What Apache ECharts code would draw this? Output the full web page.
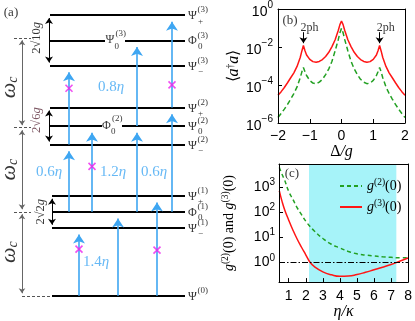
<!DOCTYPE html>
<html>
<head>
<meta charset="utf-8">
<script src="https://cdn.jsdelivr.net/npm/echarts@6/dist/echarts.min.js"></script>
<style>
html, body { margin: 0; padding: 0; background: #fff; }
#chart { width: 415px; height: 321px; }
</style>
</head>
<body>
<div id="chart"></div>
<script>
// ---- panel (a): energy levels, in units of omega_c ----
var levelE   = [0, 0.81, 1.0, 1.19, 1.80, 2.02, 2.24, 2.74, 3.04, 3.34];
var levelSym = ['Ψ', 'Ψ', 'Φ', 'Ψ', 'Ψ', 'Ψ', 'Ψ', 'Ψ', 'Φ', 'Ψ'];
var levelSub = ['', '−', '0', '+', '−', '0', '+', '−', '0', '+'];
var levelSup = ['(0)', '(1)', '(1)', '(1)', '(2)', '(2)', '(2)', '(3)', '(3)', '(3)'];
var omegaMarks = [0, 1.0, 2.0, 3.07];
// transitions (level index from -> to), forbidden ones get a cross
var transFrom = [0, 0, 0, 2, 2, 2, 2, 4, 5, 6];
var transTo   = [1, 2, 3, 4, 5, 5, 6, 7, 8, 9];
var forbidden = [true, false, true, false, true, false, false, true, false, true];
var detuneText = ['1.4', '0.6', '1.2', '0.6', '0.8'];

// ---- panel (b): log10 <a+a> vs Delta/g ----
var delta = [-2, -1.9, -1.8, -1.7, -1.6, -1.5, -1.4, -1.3, -1.25, -1.2, -1.15, -1.1, -1, -0.9, -0.8, -0.7, -0.6, -0.5, -0.4, -0.3, -0.2, -0.1, -0.05,
  0, 0.05, 0.1, 0.2, 0.3, 0.4, 0.5, 0.6, 0.7, 0.8, 0.9, 1, 1.1, 1.15, 1.2, 1.25, 1.3, 1.4, 1.5, 1.6, 1.7, 1.8, 1.9, 2];
var nRedLog = [-4.54, -4.35, -4.13, -3.88, -3.62, -3.36, -3.02, -2.55, -2.22, -1.92, -2.2, -2.42, -2.65, -2.77, -2.8, -2.76, -2.66, -2.5, -2.28, -1.98, -1.62, -1.12, -0.82,
  -0.63, -0.82, -1.12, -1.62, -1.98, -2.28, -2.5, -2.66, -2.76, -2.8, -2.77, -2.65, -2.42, -2.2, -1.92, -2.22, -2.55, -3.02, -3.36, -3.62, -3.88, -4.13, -4.35, -4.54];
var nGreenLog = [-5.71, -5.5, -5.27, -5.02, -4.74, -4.45, -4.1, -3.62, -3.32, -3.08, -3.3, -3.5, -3.76, -3.9, -3.93, -3.85, -3.7, -3.45, -3.15, -2.75, -2.2, -1.6, -1.25,
  -1.02, -1.25, -1.6, -2.2, -2.75, -3.15, -3.45, -3.7, -3.85, -3.93, -3.9, -3.76, -3.5, -3.3, -3.08, -3.32, -3.62, -4.1, -4.45, -4.74, -5.02, -5.27, -5.5, -5.71];
var peaks2ph = [-1.2, 1.2];

// ---- panel (c): log10 g2(0), g3(0) vs eta/kappa ----
var eta = [0.45, 0.6, 0.75, 1, 1.25, 1.5, 1.75, 2, 2.25, 2.5, 3, 3.5, 4, 4.5, 5, 5.5, 6, 6.5, 7, 7.5, 8];
var g2Log = [3.78, 3.52, 3.29, 2.83, 2.5, 2.17, 1.9, 1.64, 1.43, 1.25, 0.95, 0.72, 0.57, 0.43, 0.34, 0.29, 0.25, 0.22, 0.2, 0.18, 0.18];
var g3Log = [2.85, 2.45, 2.12, 1.68, 1.28, 0.92, 0.6, 0.3, 0.0, -0.17, -0.38, -0.5, -0.56, -0.55, -0.49, -0.4, -0.3, -0.2, -0.09, 0.04, 0.17];
var shadeRange = [2.19, 7.31];
var etaTicks = [1, 2, 3, 4, 5, 6, 7, 8];
var gTicks = [0, 1, 2, 3];

var SERIF = 'Liberation Serif', SANS = 'Liberation Sans';
var BLUE = '#3ea6f2', MAG = '#ee22ee', RED = '#ff1515', GREEN = '#22a022';

// layout of the diagram (horizontal positions in panel pixels)
var arrowX = [79, 118, 157, 69, 92, 137, 172, 69, 137, 172];
var crossE = [0.556, null, 0.544, null, 1.54, null, null, 2.47, null, 2.51];
var levelGap = { 5: [102, 122], 8: [105, 125] };
var detunePos = [[96, 0.40], [49, 1.47], [113, 1.47], [154, 1.47], [111, 2.48]];
var headInset = 0.08, splitInset = 0.035, omegaInset = 0.03;

function neg(v) { return v < 0 ? '−' + (-v) : String(v); }

var RICH = {
  m: { fontFamily: SERIF, fontSize: 12, color: '#000' },
  s: { fontFamily: SERIF, fontSize: 9, color: '#000' },
  bn: { fontFamily: SERIF, fontSize: 15, color: BLUE },
  bi: { fontFamily: SERIF, fontSize: 15, color: BLUE, fontStyle: 'italic' },
  w: { fontFamily: SERIF, fontSize: 22, fontStyle: 'italic', color: '#000' },
  wc: { fontFamily: SERIF, fontSize: 14, fontStyle: 'italic', color: '#000', padding: [9, 0, 0, 0] },
  k: { fontFamily: SERIF, fontSize: 12.5, color: '#000' },
  kp: { fontFamily: SERIF, fontSize: 12.5, color: '#5b2c3b' },
  ki: { fontFamily: SERIF, fontSize: 12.5, color: '#000', fontStyle: 'italic' },
  kpi: { fontFamily: SERIF, fontSize: 12.5, color: '#5b2c3b', fontStyle: 'italic' },
  lab: { fontFamily: SERIF, fontSize: 13, color: '#000' },
  ph: { fontFamily: SERIF, fontSize: 12, color: '#000' }
};

function t(x, y, fmt, o) {
  var lab = { show: true, position: 'inside', formatter: fmt };
  for (var key in (o || {})) lab[key] = o[key];
  return { value: [x, y], label: lab };
}

// level segments
var levelSegs = [];
levelE.forEach(function (e, i) {
  var x0 = i < 4 ? 52 : 50;
  var gap = levelGap[i];
  if (gap) {
    levelSegs.push({ coords: [[x0, e], [gap[0], e]] });
    levelSegs.push({ coords: [[gap[1], e], [185, e]] });
  } else {
    levelSegs.push({ coords: [[x0, e], [185, e]] });
  }
});

var arrowSegs = transFrom.map(function (f, k) {
  return { coords: [[arrowX[k], levelE[f]], [arrowX[k], levelE[transTo[k]] - headInset]] };
});
var crosses = [];
forbidden.forEach(function (fb, k) { if (fb) crosses.push([arrowX[k], crossE[k]]); });

function dbl(x, top, bottom, inset) {
  return { coords: [[x, top - inset], [x, bottom + inset]] };
}
var splitSegs = [
  dbl(49, levelE[9], levelE[7], splitInset),
  dbl(49, levelE[6], levelE[4], splitInset),
  dbl(52, levelE[3], levelE[1], splitInset)
];
var omegaSegs = [];
for (var i = 0; i < omegaMarks.length - 1; i++) {
  omegaSegs.push(dbl(22, omegaMarks[i + 1], omegaMarks[i], omegaInset));
}
var dashSegs = [{ coords: [[22, 0], [52, 0]] }];
for (var j = 1; j < omegaMarks.length; j++) {
  dashSegs.push({ coords: [[14, omegaMarks[j]], [31, omegaMarks[j]]] });
}

// texts of panel (a)
var texts = [];
levelE.forEach(function (e, i) {
  texts.push(t(188, e - 0.012, '{m|' + levelSym[i] + '}', { align: 'left' }));
  texts.push(t(197.5, e + 0.06, '{s|' + levelSup[i] + '}', { align: 'left' }));
  if (levelSub[i]) texts.push(t(198, e - 0.072, '{s|' + levelSub[i] + '}', { align: 'left' }));
});
// inline labels on the middle levels
[[8, 'Ψ', 105.5], [5, 'Φ', 102]].forEach(function (d) {
  var e = levelE[d[0]];
  texts.push(t(d[2], e, '{m|' + d[1] + '}', { align: 'left' }));
  texts.push(t(d[2] + 9, e - 0.071, '{s|0}', { align: 'left' }));
  texts.push(t(d[2] + 10, e + 0.083, '{s|' + levelSup[d[0]] + '}', { align: 'left' }));
});
detuneText.forEach(function (s, k) {
  texts.push(t(detunePos[k][0], detunePos[k][1], '{bn|' + s + '}{bi|η}'));
});
[2.48, 1.5, 0.52].forEach(function (e) {
  texts.push(t(9, e, '{w|ω}{wc|c}', { rotate: 90 }));
});
texts.push(t(37, 3.07, '{k|2√10}{ki|g}', { rotate: 90 }));
texts.push(t(37, 2.09, '{kp|2√6}{kpi|g}', { rotate: 90 }));
texts.push(t(41, 1.0, '{k|2√2}{ki|g}', { rotate: 90 }));
texts.push(t(11, 3.365, '{lab|(a)}'));

function pairs(xs, ys) { return xs.map(function (x, i) { return [x, ys[i]]; }); }

var logLabelB = {
  color: '#000', margin: 5,
  formatter: function (v) { return '{tb|10}{ts|' + neg(v) + '}'; },
  rich: {
    tb: { fontFamily: SANS, fontSize: 14, color: '#000', padding: [7, 0, 0, 0] },
    ts: { fontFamily: SANS, fontSize: 10, color: '#000', padding: [0, 0, 8, 0] }
  }
};
var logLabelC = {
  color: '#000', margin: 4, customValues: gTicks,
  formatter: function (v) { return '{tb|10}{ts|' + neg(v) + '}'; },
  rich: {
    tb: { fontFamily: SANS, fontSize: 14, color: '#000' },
    ts: { fontFamily: SANS, fontSize: 10, color: '#000', padding: [0, 0, 9, 0] }
  }
};
var axLine = { onZero: false, lineStyle: { color: '#000', width: 1 } };
var tick = { inside: true, length: 4, lineStyle: { color: '#000' } };
var nameRich = {
  up: { fontFamily: SERIF, fontSize: 16, color: '#000' },
  it: { fontFamily: SERIF, fontSize: 16, color: '#000', fontStyle: 'italic' },
  gi: { fontFamily: SERIF, fontSize: 14, color: '#000', fontStyle: 'italic' },
  gs: { fontFamily: SERIF, fontSize: 9.5, color: '#000', padding: [0, 0, 8, 0] },
  gn: { fontFamily: SERIF, fontSize: 14, color: '#000' }
};

var chart = echarts.init(document.getElementById('chart'));
var option = {
  animation: false,
  legend: {
    data: ['g2', 'g3'], left: 334, top: 172, orient: 'vertical',
    itemWidth: 22, itemHeight: 10, itemGap: 5, selectedMode: false,
    itemStyle: { opacity: 0 },
    formatter: function (n) {
      return n === 'g2' ? '{gi|g}{gs|(2)}{gn|(0)}' : '{gi|g}{gs|(3)}{gn|(0)}';
    },
    textStyle: { rich: nameRich }
  },
  grid: [
    { left: 0, top: 0, width: 210, height: 321 },
    { left: 278, top: 5, width: 127, height: 118 },
    { left: 279, top: 164, width: 132, height: 119 }
  ],
  xAxis: [
    { gridIndex: 0, type: 'value', min: 0, max: 210, show: false },
    { gridIndex: 1, type: 'value', min: -2, max: 2, interval: 1, z: 5, axisLine: axLine, axisTick: tick,
      splitLine: { show: false },
      axisLabel: { color: '#000', fontFamily: SANS, fontSize: 14, margin: 6, formatter: neg },
      name: '{up|Δ}{it|/g}', nameLocation: 'middle', nameGap: 17, nameTextStyle: { rich: nameRich } },
    { gridIndex: 1, type: 'value', position: 'top', min: -2, max: 2, z: 5, axisLine: axLine,
      axisTick: { show: false }, axisLabel: { show: false }, splitLine: { show: false } },
    { gridIndex: 2, type: 'value', min: 0.43, max: 8, z: 5, axisLine: axLine,
      axisTick: { inside: true, length: 4, lineStyle: { color: '#000' }, customValues: etaTicks },
      splitLine: { show: false },
      axisLabel: { color: '#000', fontFamily: SANS, fontSize: 14, margin: 7, customValues: etaTicks },
      name: '{it|η/κ}', nameLocation: 'middle', nameGap: 20, nameTextStyle: { rich: nameRich } },
    { gridIndex: 2, type: 'value', position: 'top', min: 0.43, max: 8, z: 5, axisLine: axLine,
      axisTick: { show: false }, axisLabel: { show: false }, splitLine: { show: false } }
  ],
  yAxis: [
    { gridIndex: 0, type: 'value', min: -0.3, max: 3.52, show: false },
    { gridIndex: 1, type: 'value', min: -6, max: 0, interval: 2, z: 5, axisLine: axLine, axisTick: tick,
      splitLine: { show: false }, axisLabel: logLabelB,
      name: '{up|⟨}{it|a}{gs|†}{it|a}{up|⟩}', nameLocation: 'middle', nameGap: 35, nameTextStyle: { rich: nameRich } },
    { gridIndex: 1, type: 'value', position: 'right', min: -6, max: 0, z: 5, axisLine: axLine,
      axisTick: { show: false }, axisLabel: { show: false }, splitLine: { show: false } },
    { gridIndex: 2, type: 'value', min: -0.79, max: 3.92, z: 5, axisLine: axLine,
      axisTick: { inside: true, length: 4, lineStyle: { color: '#000' }, customValues: gTicks },
      splitLine: { show: false }, axisLabel: logLabelC,
      name: '{gi|g}{gs|(2)}{gn|(0) and }{gi|g}{gs|(3)}{gn|(0)}', nameLocation: 'middle', nameGap: 41,
      nameTextStyle: { rich: nameRich } },
    { gridIndex: 2, type: 'value', position: 'right', min: -0.79, max: 3.92, z: 5, axisLine: axLine,
      axisTick: { show: false }, axisLabel: { show: false }, splitLine: { show: false } }
  ],
  series: [
    { type: 'lines', coordinateSystem: 'cartesian2d', xAxisIndex: 0, yAxisIndex: 0, silent: true,
      symbol: 'none', lineStyle: { color: '#000', width: 2, opacity: 1 }, data: levelSegs },
    { type: 'lines', coordinateSystem: 'cartesian2d', xAxisIndex: 0, yAxisIndex: 0, silent: true,
      symbol: ['none', 'arrow'], symbolSize: 9, lineStyle: { color: BLUE, width: 1.6, opacity: 1 }, data: arrowSegs },
    { type: 'lines', coordinateSystem: 'cartesian2d', xAxisIndex: 0, yAxisIndex: 0, silent: true,
      symbol: ['arrow', 'arrow'], symbolSize: 6, lineStyle: { color: '#000', width: 1, opacity: 1 }, data: splitSegs },
    { type: 'lines', coordinateSystem: 'cartesian2d', xAxisIndex: 0, yAxisIndex: 0, silent: true,
      symbol: ['arrow', 'arrow'], symbolSize: 5, lineStyle: { color: '#666', width: 1, opacity: 1 }, data: omegaSegs },
    { type: 'lines', coordinateSystem: 'cartesian2d', xAxisIndex: 0, yAxisIndex: 0, silent: true,
      symbol: 'none', lineStyle: { color: '#555', width: 1, type: [3, 2], opacity: 1 }, data: dashSegs },
    { type: 'scatter', xAxisIndex: 0, yAxisIndex: 0, silent: true, z: 4,
      symbol: 'path://M0 0L10 10M10 0L0 10', symbolSize: 7,
      itemStyle: { color: 'none', borderColor: MAG, borderWidth: 1.6 }, data: crosses },
    { type: 'scatter', xAxisIndex: 0, yAxisIndex: 0, silent: true, z: 5,
      symbolSize: 1, itemStyle: { color: 'rgba(0,0,0,0)' },
      label: { show: true, position: 'inside', rich: RICH }, data: texts },

    { type: 'line', xAxisIndex: 1, yAxisIndex: 1, symbol: 'none', silent: true,
      lineStyle: { color: RED, width: 1.5 }, data: pairs(delta, nRedLog) },
    { type: 'line', xAxisIndex: 1, yAxisIndex: 1, symbol: 'none', silent: true,
      lineStyle: { color: GREEN, width: 1.5, type: [5, 3] }, data: pairs(delta, nGreenLog) },
    { type: 'lines', coordinateSystem: 'cartesian2d', xAxisIndex: 1, yAxisIndex: 1, silent: true,
      symbol: ['none', 'arrow'], symbolSize: 6, lineStyle: { color: '#000', width: 1, opacity: 1 },
      data: peaks2ph.map(function (p) { return { coords: [[p, -1.22], [p, -1.8]] }; }) },
    { type: 'scatter', xAxisIndex: 1, yAxisIndex: 1, silent: true, symbolSize: 1,
      itemStyle: { color: 'rgba(0,0,0,0)' }, label: { show: true, position: 'inside', rich: RICH },
      data: [t(-1.62, -0.6, '{lab|(b)}')].concat(peaks2ph.map(function (p) { return t(p + 0.19, -0.98, '{ph|2ph}'); })) },

    { name: 'g2', type: 'line', xAxisIndex: 3, yAxisIndex: 3, symbol: 'none', smooth: true, silent: true, z: 3,
      lineStyle: { color: GREEN, width: 1.5, type: [4, 3] }, data: pairs(eta, g2Log),
      markArea: { silent: true, itemStyle: { color: '#a6f3f9' },
        data: [[{ xAxis: shadeRange[0] }, { xAxis: shadeRange[1] }]] } },
    { name: 'g3', type: 'line', xAxisIndex: 3, yAxisIndex: 3, symbol: 'none', smooth: true, silent: true, z: 3,
      lineStyle: { color: RED, width: 1.5 }, data: pairs(eta, g3Log),
      markLine: { silent: true, symbol: ['none', 'none'], label: { show: false },
        lineStyle: { color: '#000', width: 1, type: [6, 2, 1.5, 2] }, data: [{ yAxis: 0 }] } },
    { type: 'scatter', xAxisIndex: 3, yAxisIndex: 3, silent: true, symbolSize: 1,
      itemStyle: { color: 'rgba(0,0,0,0)' }, label: { show: true, position: 'inside', rich: RICH },
      data: [t(1.19, 3.52, '{lab|(c)}')] }
  ]
};
chart.setOption(option);
window.addEventListener('resize', function () { chart.resize(); });
</script>
</body>
</html>
